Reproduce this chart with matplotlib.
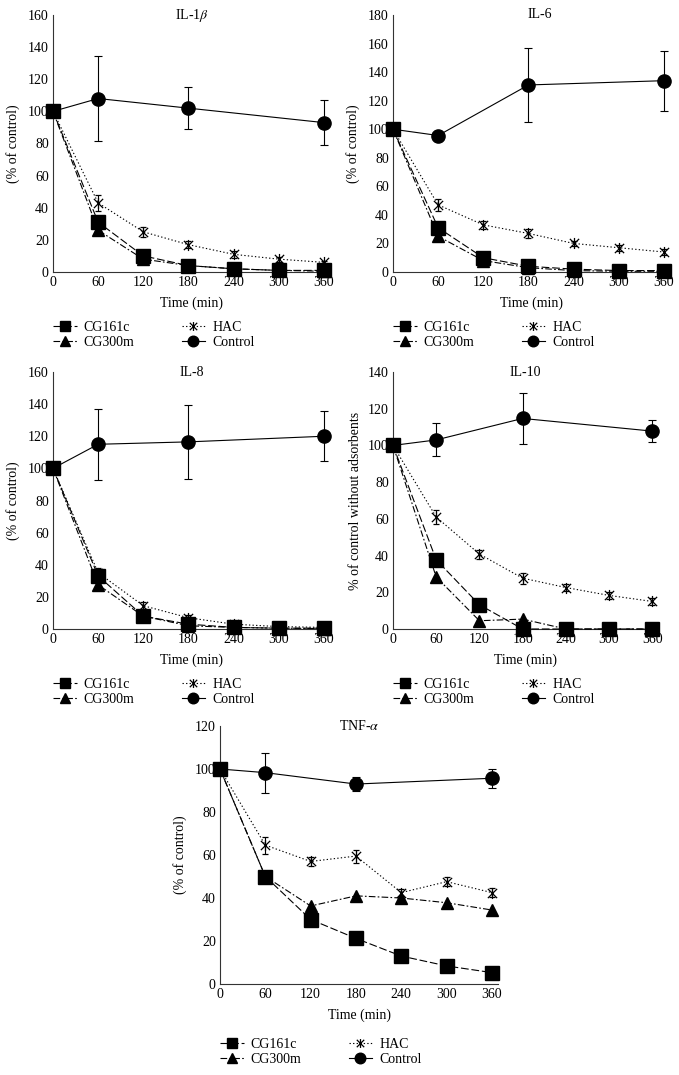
import matplotlib
matplotlib.use('Agg')
import matplotlib.pyplot as plt
from matplotlib.path import Path
from matplotlib.lines import Line2D

plt.rcParams['font.family'] = ['Liberation Serif', 'DejaVu Serif']
plt.rcParams['mathtext.fontset'] = 'stix'
plt.rcParams['font.size'] = 10

# time points (min)
time = [0, 60, 120, 180, 240, 300, 360]
ctrl_time = [0, 60, 180, 360]
xticks = [0, 60, 120, 180, 240, 300, 360]

# IL-1b
il1b_cg161c = [100, 31, 10, 4, 2, 1, 1]
il1b_cg300m = [100, 26, 8, 4, 2, 1, 0.5]
il1b_hac = [100, 43, 25, 17, 11, 8, 6]
il1b_hac_err = [0, 5, 3, 2, 2, 1.5, 1]
il1b_ctrl = [100, 108, 102, 93]
il1b_ctrl_err = [0, 26.5, 13, 14]

# IL-6
il6_cg161c = [100, 31, 10, 4, 2, 1, 1]
il6_cg300m = [100, 25, 8, 3, 1, 0.5, 0.5]
il6_hac = [100, 47, 33, 27, 20, 17, 14]
il6_hac_err = [0, 4, 3, 3, 2, 2, 2]
il6_ctrl = [100, 95.6, 131, 134]
il6_ctrl_err = [0, 0, 26, 21]

# IL-8
il8_cg161c = [100, 33, 8, 3, 1, 0.5, 0.5]
il8_cg300m = [100, 27.5, 8, 2, 1, 0.5, 0.3]
il8_hac = [100, 35, 14.5, 7, 3, 1.5, 1]
il8_hac_err = [0, 3, 2, 1.5, 1, 0.5, 0.5]
il8_ctrl = [100, 115, 116.5, 120]
il8_ctrl_err = [0, 22, 23, 15.5]

# IL-10
il10_cg161c = [100, 37.7, 13.2, 0, 0, 0, 0]
il10_cg300m = [100, 28.3, 4.5, 5.4, 0, 0, 0]
il10_hac = [100, 61, 40.8, 27.7, 22.6, 18.3, 15]
il10_hac_err = [0, 4, 2.5, 3, 2, 2, 2]
il10_ctrl = [100, 103, 114.7, 107.8]
il10_ctrl_err = [0, 9, 14, 6]

# TNF-a
tnf_cg161c = [100, 50, 30, 21.2, 13, 8.4, 5.3]
tnf_cg300m = [100, 50, 36.3, 41, 40, 37.8, 34.4]
tnf_hac = [100, 64.6, 57, 59.5, 42.5, 47.6, 42.5]
tnf_hac_err = [0, 4, 2, 3, 1.5, 2, 2]
tnf_ctrl = [100, 98.3, 93, 95.7]
tnf_ctrl_err = [0, 9.3, 3.3, 4.5]

# x with a vertical stroke, like the Excel star marker
star = Path([(-1, -1), (1, 1), (-1, 1), (1, -1), (0, -1.2), (0, 1.2)],
            [Path.MOVETO, Path.LINETO, Path.MOVETO, Path.LINETO, Path.MOVETO, Path.LINETO])

W, H = 679.0, 1075.0
LW = 0.8
styles = {
    'CG161c': dict(marker='s', ms=9.5, dashes=(7, 2.5)),
    'CG300m': dict(marker='^', ms=8.5, dashes=(6, 2, 1.5, 2)),
    'HAC': dict(marker=star, ms=8, mew=0.9, mfc='none', dashes=(1.2, 2)),
    'Control': dict(marker='o', ms=9.5, ls='-'),
}


def px_axes(fig, left, top, right, bottom):
    return fig.add_axes([left / W, 1 - bottom / H, (right - left) / W, (bottom - top) / H])


def panel(ax, title, ymax, cg161c, cg300m, hac, hac_err, ctrl, ctrl_err,
          ylabel='(% of control)', title_x=0.5):
    ax.errorbar(ctrl_time, ctrl, yerr=ctrl_err, color='black', lw=LW, capsize=3,
                elinewidth=0.8, capthick=0.8, clip_on=False, zorder=3, **styles['Control'])
    ax.errorbar(time, hac, yerr=hac_err, color='black', lw=LW, capsize=2.5,
                elinewidth=0.8, capthick=0.8, clip_on=False, zorder=4, **styles['HAC'])
    ax.plot(time, cg300m, color='black', lw=LW, clip_on=False, zorder=5, **styles['CG300m'])
    ax.plot(time, cg161c, color='black', lw=LW, clip_on=False, zorder=6, **styles['CG161c'])
    ax.set_xlim(0, 368)
    ax.set_ylim(0, ymax)
    ax.set_xticks(xticks)
    ax.set_yticks(range(0, ymax + 1, 20))
    ax.tick_params(length=0, labelsize=10)
    ax.tick_params(axis='x', pad=3)
    ax.tick_params(axis='y', pad=3)
    for s in ['top', 'right']:
        ax.spines[s].set_visible(False)
    for s in ['left', 'bottom']:
        ax.spines[s].set_color('#333333')
        ax.spines[s].set_linewidth(0.8)
    ax.set_xlabel('Time (min)', fontsize=10, labelpad=5)
    ax.set_ylabel(ylabel, fontsize=10)
    ax.yaxis.set_label_coords(-0.118, 0.5)
    ax.text(title_x, 1.0, title, transform=ax.transAxes, ha='center', va='center', fontsize=10)


def add_legend(fig, x_px, y_px):
    order = ['CG161c', 'CG300m', 'HAC', 'Control']
    hh = [Line2D([], [], color='black', lw=LW, **styles[o]) for o in order]
    fig.legend(hh, order, loc='upper left', bbox_to_anchor=(x_px / W, 1 - y_px / H),
               ncol=2, frameon=False, fontsize=10, markerscale=0.8, handlelength=1.7,
               handletextpad=0.5, columnspacing=3.4, labelspacing=0.15, borderpad=0,
               borderaxespad=0)


fig = plt.figure(figsize=(W / 100, H / 100), dpi=100)

ax1 = px_axes(fig, 53, 15, 330, 272)
panel(ax1, 'IL-1$\\beta$', 160, il1b_cg161c, il1b_cg300m, il1b_hac, il1b_hac_err,
      il1b_ctrl, il1b_ctrl_err)
add_legend(fig, 53, 321)

ax2 = px_axes(fig, 393, 15, 670, 272)
panel(ax2, 'IL-6', 180, il6_cg161c, il6_cg300m, il6_hac, il6_hac_err,
      il6_ctrl, il6_ctrl_err, title_x=0.53)
add_legend(fig, 393, 321)

ax3 = px_axes(fig, 53, 372, 330, 629)
panel(ax3, 'IL-8', 160, il8_cg161c, il8_cg300m, il8_hac, il8_hac_err,
      il8_ctrl, il8_ctrl_err)
add_legend(fig, 53, 678)

ax4 = px_axes(fig, 393, 372, 658, 629)
panel(ax4, 'IL-10', 140, il10_cg161c, il10_cg300m, il10_hac, il10_hac_err,
      il10_ctrl, il10_ctrl_err, ylabel='% of control without adsorbents')
add_legend(fig, 393, 678)

ax5 = px_axes(fig, 220, 726, 498, 984)
panel(ax5, 'TNF-$\\alpha$', 120, tnf_cg161c, tnf_cg300m, tnf_hac, tnf_hac_err,
      tnf_ctrl, tnf_ctrl_err)
add_legend(fig, 220, 1038)

fig.savefig('out.png', dpi=100)
